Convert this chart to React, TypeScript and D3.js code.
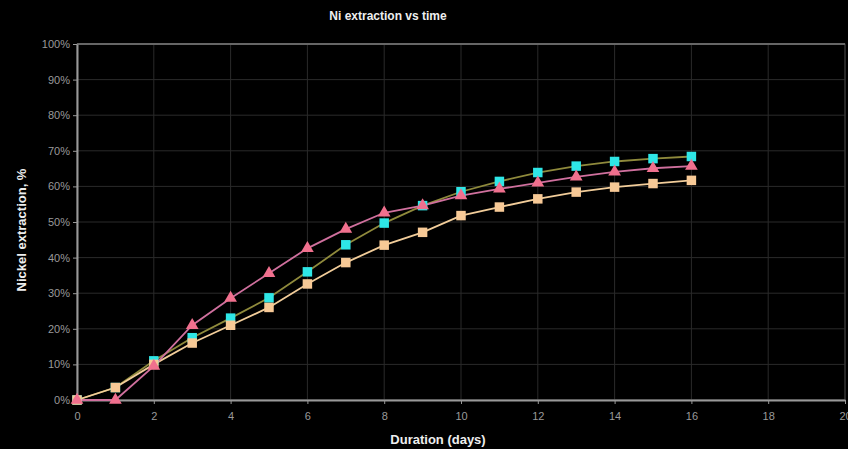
import { useEffect, useRef } from "react";
import * as d3 from "d3";

const days = [0, 1, 2, 3, 4, 5, 6, 7, 8, 9, 10, 11, 12, 13, 14, 15, 16];
const cyanSeries = [0, 3.5, 11, 17.5, 23, 28.7, 36, 43.6, 49.7, 54.6, 58.5, 61.4, 63.9, 65.7, 67, 67.8, 68.4];
const tanSeries = [0, 3.5, 10, 16, 21, 26, 32.6, 38.6, 43.5, 47.1, 51.8, 54.2, 56.5, 58.4, 59.8, 60.8, 61.7];
const pinkSeries = [0, 0, 9.5, 21, 28.6, 35.6, 42.6, 48, 52.6, 54.6, 57.4, 59.3, 61, 62.7, 64.1, 65.1, 65.7];
const xTicks = [0, 2, 4, 6, 8, 10, 12, 14, 16, 18, 20];
const yTicks = [0, 10, 20, 30, 40, 50, 60, 70, 80, 90, 100];

const W = 848;
const H = 449;
const margin = { top: 44, right: 3, bottom: 49, left: 77 };

export default function App() {
  const ref = useRef<SVGSVGElement>(null);

  useEffect(() => {
    if (!ref.current) return;
    const svg = d3.select(ref.current);
    svg.selectAll("*").remove();

    const x = d3
      .scaleLinear()
      .domain([0, 20])
      .range([margin.left, W - margin.right]);
    const y = d3
      .scaleLinear()
      .domain([0, 100])
      .range([H - margin.bottom, margin.top]);

    svg.append("rect").attr("width", W).attr("height", H).attr("fill", "#000");

    // grid
    const grid = svg.append("g").attr("stroke", "#2a2a2a").attr("stroke-width", 1);
    xTicks.forEach((t) => {
      grid
        .append("line")
        .attr("x1", x(t))
        .attr("x2", x(t))
        .attr("y1", y(0))
        .attr("y2", y(100));
    });
    yTicks.forEach((t) => {
      grid
        .append("line")
        .attr("x1", x(0))
        .attr("x2", x(20))
        .attr("y1", y(t))
        .attr("y2", y(t));
    });

    // frame
    svg
      .append("rect")
      .attr("x", x(0))
      .attr("y", y(100))
      .attr("width", x(20) - x(0))
      .attr("height", y(0) - y(100))
      .attr("fill", "none")
      .attr("stroke", "#3a3a3a");
    svg
      .append("line")
      .attr("x1", x(0))
      .attr("x2", x(20))
      .attr("y1", y(100))
      .attr("y2", y(100))
      .attr("stroke", "#666")
      .attr("stroke-width", 2);

    // axes
    const xAxis = svg
      .append("g")
      .attr("transform", `translate(0,${y(0)})`)
      .call(d3.axisBottom(x).tickValues(xTicks).tickSize(4).tickSizeOuter(0));
    const yAxis = svg
      .append("g")
      .attr("transform", `translate(${x(0)},0)`)
      .call(
        d3
          .axisLeft(y)
          .tickValues(yTicks)
          .tickSize(4)
          .tickSizeOuter(0)
          .tickFormat((d) => `${d}%`)
      );
    [xAxis, yAxis].forEach((a) => {
      a.select(".domain").attr("stroke", "#999").attr("stroke-width", 2);
      a.selectAll(".tick line").attr("stroke", "#999");
      a.selectAll(".tick text")
        .attr("fill", "#9a9a9a")
        .attr("font-family", "Liberation Sans, Arial, sans-serif")
        .attr("font-size", 11);
    });
    xAxis.selectAll(".tick text").attr("dy", "1.2em");
    yAxis.selectAll(".tick text").attr("x", -7);

    const series = [
      { values: cyanSeries, line: "#8f8a3c", fill: "#2ee6e6", shape: "square" },
      { values: tanSeries, line: "#f2cd9a", fill: "#f7c996", shape: "square" },
      { values: pinkSeries, line: "#d0709e", fill: "#f0708e", shape: "triangle" },
    ];

    const lineGen = d3
      .line<number>()
      .x((_, i) => x(days[i]))
      .y((d) => y(d));

    series.forEach((s) => {
      svg
        .append("path")
        .attr("d", lineGen(s.values) as string)
        .attr("fill", "none")
        .attr("stroke", s.line)
        .attr("stroke-width", 1.8);
    });

    series.forEach((s) => {
      const sym = d3
        .symbol()
        .type(s.shape === "square" ? d3.symbolSquare : d3.symbolTriangle)
        .size(s.shape === "square" ? 90 : 70);
      svg
        .append("g")
        .selectAll("path")
        .data(s.values)
        .join("path")
        .attr("transform", (d, i) => `translate(${x(days[i])},${y(d)})`)
        .attr("d", sym() as string)
        .attr("fill", s.fill);
    });

    // titles
    svg
      .append("text")
      .attr("x", 388)
      .attr("y", 20)
      .attr("text-anchor", "middle")
      .attr("fill", "#eee")
      .attr("font-family", "Liberation Sans, Arial, sans-serif")
      .attr("font-weight", "bold")
      .attr("font-size", 12)
      .text("Ni extraction vs time");
    svg
      .append("text")
      .attr("x", 438)
      .attr("y", 444)
      .attr("text-anchor", "middle")
      .attr("fill", "#eee")
      .attr("font-family", "Liberation Sans, Arial, sans-serif")
      .attr("font-weight", "bold")
      .attr("font-size", 13)
      .text("Duration (days)");
    svg
      .append("text")
      .attr("transform", `translate(26,${(y(0) + y(100)) / 2 + 8}) rotate(-90)`)
      .attr("text-anchor", "middle")
      .attr("fill", "#eee")
      .attr("font-family", "Liberation Sans, Arial, sans-serif")
      .attr("font-weight", "bold")
      .attr("font-size", 13)
      .text("Nickel extraction, %");
  }, []);

  return (
    <svg
      ref={ref}
      width={W}
      height={H}
      style={{ position: "fixed", left: 0, top: 0, display: "block" }}
    />
  );
}
